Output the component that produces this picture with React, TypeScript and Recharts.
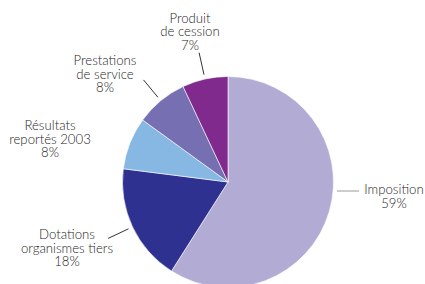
import React from "react";
import { PieChart, Pie, Cell } from "recharts";

const categories = ["Imposition", "Dotations organismes tiers", "Résultats reportés 2003", "Prestations de service", "Produit de cession"];
const values = [59, 18, 8, 8, 7];
const labelLines = [
  ["Imposition"],
  ["Dotations", "organismes tiers"],
  ["Résultats", "reportés 2003"],
  ["Prestations", "de service"],
  ["Produit", "de cession"],
];
const colors = ["#b2acd5", "#2e3190", "#86b8e3", "#7670b3", "#802a8e"];

// label layout (offsets relative to pie centre), leader type
const labelLayout = [
  { dx: 166, dy: 12, leader: "horizontal", ly: 9, lx1: 109, lx2: 131, lineColor: "#9a9a9a" },
  { dx: -161, dy: 57, leader: "radial", lineColor: "#333" },
  { dx: -178, dy: -52, leader: "none", lineColor: "#333" },
  { dx: -123, dy: -117, leader: "radial", lineColor: "#333" },
  { dx: -38, dy: -159.5, leader: "radial", lineColor: "#333" },
];

const data = categories.map((name, i) => ({ name, value: values[i] }));
const RAD = Math.PI / 180;
const LINE_H = 13.5;

const renderLabel = (props: any) => {
  const { cx, cy, midAngle, outerRadius, index, value } = props;
  const lay = labelLayout[index];
  const lines = [...labelLines[index], `${value}%`];
  const cos = Math.cos(-midAngle * RAD);
  const sin = Math.sin(-midAngle * RAD);
  let leader = null;
  if (lay.leader === "radial") {
    const r1 = outerRadius + 4.5;
    const r2 = outerRadius + 27;
    leader = (
      <line x1={cx + r1 * cos} y1={cy + r1 * sin} x2={cx + r2 * cos} y2={cy + r2 * sin} stroke={lay.lineColor} strokeWidth={1} />
    );
  } else if (lay.leader === "horizontal") {
    leader = (
      <line x1={cx + lay.lx1} y1={cy + lay.ly} x2={cx + lay.lx2} y2={cy + lay.ly} stroke={lay.lineColor} strokeWidth={1} />
    );
  }
  return (
    <g key={`lbl-${index}`}>
      {leader}
      <text
        x={cx + lay.dx}
        y={cy + lay.dy}
        textAnchor="middle"
        fill="#262626"
        fontFamily="Lato, 'Open Sans', sans-serif"
        fontWeight={300}
        fontSize={13.2}
      >
        {lines.map((t, j) => (
          <tspan key={j} x={cx + lay.dx} y={cy + lay.dy + j * LINE_H}>
            {t}
          </tspan>
        ))}
      </text>
    </g>
  );
};

export default function App() {
  return (
    <div style={{ position: "absolute", left: 0, top: 0, width: 425, height: 284, background: "#fff" }}>
      <PieChart width={425} height={284} margin={{ top: 0, right: 0, bottom: 0, left: 0 }}>
        <Pie
          data={data}
          dataKey="value"
          nameKey="name"
          cx={228}
          cy={182}
          outerRadius={105.5}
          innerRadius={0}
          startAngle={90}
          endAngle={-270}
          stroke="#ffffff"
          strokeWidth={0.6}
          label={renderLabel}
          labelLine={false}
          isAnimationActive={false}
        >
          {data.map((d, i) => (
            <Cell key={d.name} fill={colors[i]} />
          ))}
        </Pie>
      </PieChart>
    </div>
  );
}
